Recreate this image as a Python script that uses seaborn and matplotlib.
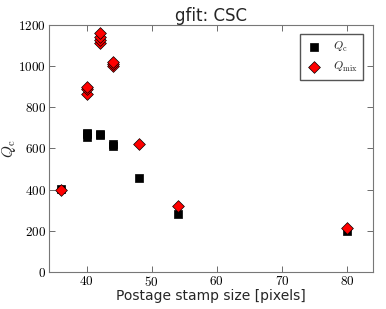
import pandas as pd
import numpy as np
import matplotlib
matplotlib.use('Agg')
import matplotlib.pyplot as plt
import seaborn as sns
from matplotlib.ticker import FuncFormatter

# 读图估计的数据
qc_size = [36, 40, 40, 40, 42, 42, 44, 44, 48, 54, 80]
qc_val = [405, 658, 668, 676, 664, 671, 610, 621, 458, 283, 200]
qmix_size = [36, 40, 40, 40, 42, 42, 42, 42, 44, 44, 44, 48, 54, 80]
qmix_val = [398, 865, 888, 897, 1114, 1128, 1140, 1162, 1003, 1013, 1020, 620, 322, 215]

sns.set_style('ticks')
plt.rcParams['font.family'] = ['DejaVu Sans']
plt.rcParams['mathtext.fontset'] = 'cm'
plt.rcParams['xtick.direction'] = 'in'
plt.rcParams['ytick.direction'] = 'in'
plt.rcParams['xtick.top'] = True
plt.rcParams['ytick.right'] = True

df_c = pd.DataFrame({'size': qc_size, 'q': qc_val})
df_m = pd.DataFrame({'size': qmix_size, 'q': qmix_val})

fig = plt.figure(figsize=(3.86, 3.09), dpi=100)
ax = fig.add_axes([0.127, 0.12, 0.839, 0.799])

sns.scatterplot(data=df_c, x='size', y='q', marker='s', color='black', s=32,
                edgecolor='black', linewidth=0.5, label=r'$Q_{\rm c}$', ax=ax, zorder=3)
sns.scatterplot(data=df_m, x='size', y='q', marker='D', color='red', s=36,
                edgecolor='black', linewidth=0.5, label=r'$Q_{\rm mix}$', ax=ax, zorder=4)

ax.set_xlim(34.2, 84)
ax.set_ylim(0, 1200)
ax.set_xticks([40, 50, 60, 70, 80])
ax.set_yticks(np.arange(0, 1201, 200))
ax.xaxis.set_major_formatter(FuncFormatter(lambda v, p: '$%d$' % v))
ax.yaxis.set_major_formatter(FuncFormatter(lambda v, p: '$%d$' % v))
ax.tick_params(labelsize=9.5, length=4, width=0.6, pad=2, colors='#555555', labelcolor='black')
for sp in ax.spines.values():
    sp.set_color('#777777')

ax.set_title('gfit: CSC', fontsize=12, pad=2)
ax.set_xlabel('Postage stamp size [pixels]', fontsize=10, labelpad=0)
ax.set_ylabel(r'$Q_{\rm c}$', fontsize=11)
ax.yaxis.set_label_coords(-0.095, 0.5)

leg = ax.legend(loc='upper right', fontsize=8.5, fancybox=False, framealpha=1,
                borderaxespad=0.8, handletextpad=0.8, borderpad=0.5, handlelength=1.5)
leg.get_frame().set_edgecolor('#555555')

fig.savefig('out.png', dpi=100)
